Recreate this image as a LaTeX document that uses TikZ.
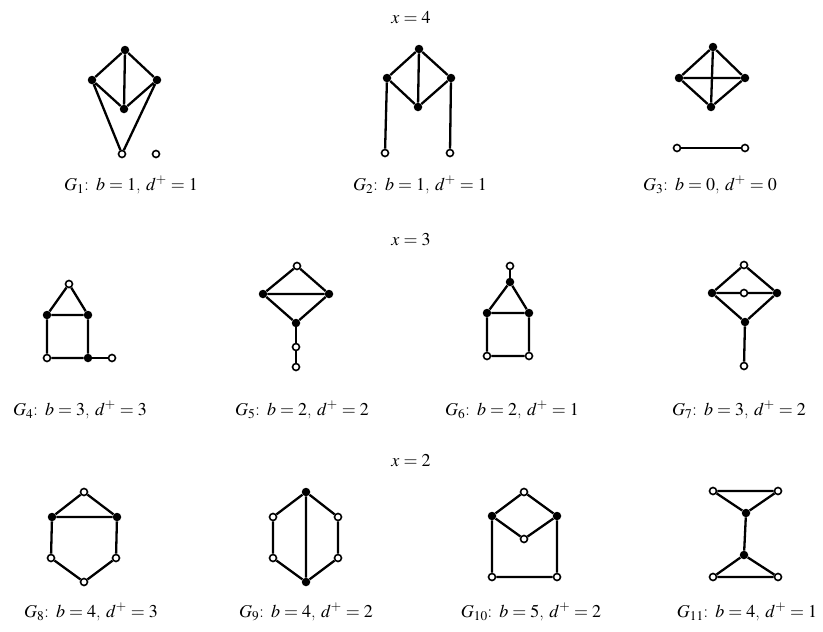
\documentclass[tikz,border=0pt]{standalone}
\usepackage{mathptmx}
\usepackage{tikz}
\usetikzlibrary{positioning}

\begin{document}
\begin{tikzpicture}[
  x=1pt, y=-1pt,
  every node/.style={font=\fontsize{18}{20}\selectfont},
  full/.style={circle, fill=black, inner sep=0pt, minimum size=8.5pt},
  hollow/.style={circle, draw, line width=1.6pt, fill=white, inner sep=0pt, minimum size=7pt},
  edge/.style={line width=2.3pt},
  caption/.style={inner sep=0pt}
]
\useasboundingbox (0,0) rectangle (823,632);

% row x = 4
\node[caption] (x4) at (411,18) {$x=4$};

\node[full] (a1) at (125,50) {};
\node[full] (a2) at (92,80) {};
\node[full] (a3) at (157,80) {};
\node[full] (a4) at (124,109) {};
\node[hollow] (a5) at (122,154) {};
\node[hollow] (a6) at (156,154) {};
\draw[edge] (a2) -- (a1) -- (a3) -- (a4) -- (a2) -- (a5) -- (a3);
\draw[edge] (a1) -- (a4);
\node[caption] (g1) at (131,185) {$G_1$: $b=1$, $d^+=1$};

\node[full] (b1) at (419,49) {};
\node[full] (b2) at (387,78) {};
\node[full] (b3) at (451,78) {};
\node[full] (b4) at (418,107) {};
\node[hollow] (b5) at (385,153) {};
\node[hollow] (b6) at (450,153) {};
\draw[edge] (b2) -- (b1) -- (b3) -- (b4) -- (b2);
\draw[edge] (b1) -- (b4);
\draw[edge] (b2) -- (b5);
\draw[edge] (b3) -- (b6);
\node[caption] (g2) at (420,185) {$G_2$: $b=1$, $d^+=1$};

\node[full] (c1) at (713,47) {};
\node[full] (c2) at (679,78) {};
\node[full] (c3) at (745,78) {};
\node[full] (c4) at (711,107) {};
\node[hollow] (c5) at (677,148) {};
\node[hollow] (c6) at (745,148) {};
\draw[edge] (c2) -- (c1) -- (c3) -- (c4) -- (c2) -- (c3);
\draw[edge] (c1) -- (c4);
\draw[edge] (c5) -- (c6);
\node[caption] (g3) at (710,185) {$G_3$: $b=0$, $d^+=0$};

% row x = 3
\node[caption] (x3) at (411,240) {$x=3$};

\node[hollow] (d1) at (69,284) {};
\node[full] (d2) at (47,315) {};
\node[full] (d3) at (88,315) {};
\node[hollow] (d4) at (47,358) {};
\node[full] (d5) at (88,358) {};
\node[hollow] (d6) at (112,358) {};
\draw[edge] (d2) -- (d1) -- (d3) -- (d2) -- (d4) -- (d5) -- (d3);
\draw[edge] (d5) -- (d6);
\node[caption] (g4) at (80,410) {$G_4$: $b=3$, $d^+=3$};

\node[hollow] (e1) at (297,266) {};
\node[full] (e2) at (263,294) {};
\node[full] (e3) at (329,294) {};
\node[full] (e4) at (296,323) {};
\node[hollow] (e5) at (296,347) {};
\node[hollow] (e6) at (296,367) {};
\draw[edge] (e2) -- (e1) -- (e3) -- (e4) -- (e2) -- (e3);
\draw[edge] (e4) -- (e5) -- (e6);
\node[caption] (g5) at (302,410) {$G_5$: $b=2$, $d^+=2$};

\node[hollow] (f1) at (510,266) {};
\node[full] (f2) at (510,282) {};
\node[full] (f3) at (487,313) {};
\node[full] (f4) at (529,313) {};
\node[hollow] (f5) at (487,356) {};
\node[hollow] (f6) at (529,356) {};
\draw[edge] (f1) -- (f2);
\draw[edge] (f3) -- (f2) -- (f4) -- (f3) -- (f5) -- (f6) -- (f4);
\node[caption] (g6) at (512,410) {$G_6$: $b=2$, $d^+=1$};

\node[hollow] (h1) at (744,265) {};
\node[full] (h2) at (712,293) {};
\node[full] (h4) at (777,293) {};
\node[full] (h5) at (745,322) {};
\node[hollow] (h6) at (744,366) {};
\draw[edge] (h2) -- (h1) -- (h4) -- (h5) -- (h2) -- (h4);
\draw[edge] (h5) -- (h6);
\node[hollow] (h3) at (744,293) {};
\node[caption] (g7) at (739,410) {$G_7$: $b=3$, $d^+=2$};

% row x = 2
\node[caption] (x2) at (411,461) {$x=2$};

\node[hollow] (k1) at (84,492) {};
\node[full] (k2) at (52,517) {};
\node[full] (k3) at (117,517) {};
\node[hollow] (k4) at (51,558) {};
\node[hollow] (k5) at (116,558) {};
\node[hollow] (k6) at (84,582) {};
\draw[edge] (k2) -- (k1) -- (k3) -- (k2) -- (k4) -- (k6) -- (k5) -- (k3);
\node[caption] (g8) at (91,612) {$G_8$: $b=4$, $d^+=3$};

\node[full] (m1) at (306,492) {};
\node[hollow] (m2) at (273,517) {};
\node[hollow] (m3) at (338,517) {};
\node[hollow] (m4) at (273,558) {};
\node[hollow] (m5) at (338,558) {};
\node[full] (m6) at (306,582) {};
\draw[edge] (m1) -- (m2) -- (m4) -- (m6) -- (m5) -- (m3) -- (m1) -- (m6);
\node[caption] (g9) at (306,612) {$G_9$: $b=4$, $d^+=2$};

\node[hollow] (n1) at (524,492) {};
\node[full] (n2) at (492,516) {};
\node[full] (n3) at (557,516) {};
\node[hollow] (n4) at (524,539) {};
\node[hollow] (n5) at (492,577) {};
\node[hollow] (n6) at (557,577) {};
\draw[edge] (n2) -- (n1) -- (n3) -- (n4) -- (n2) -- (n5) -- (n6) -- (n3);
\node[caption] (g10) at (531,612) {$G_{10}$: $b=5$, $d^+=2$};

\node[hollow] (p1) at (713,491) {};
\node[hollow] (p2) at (778,491) {};
\node[full] (p3) at (746,513) {};
\node[full] (p4) at (744,555) {};
\node[hollow] (p5) at (713,577) {};
\node[hollow] (p6) at (778,577) {};
\draw[edge] (p1) -- (p2) -- (p3) -- (p1);
\draw[edge] (p3) -- (p4);
\draw[edge] (p5) -- (p4) -- (p6) -- (p5);
\node[caption] (g11) at (747,612) {$G_{11}$: $b=4$, $d^+=1$};
\end{tikzpicture}
\end{document}
